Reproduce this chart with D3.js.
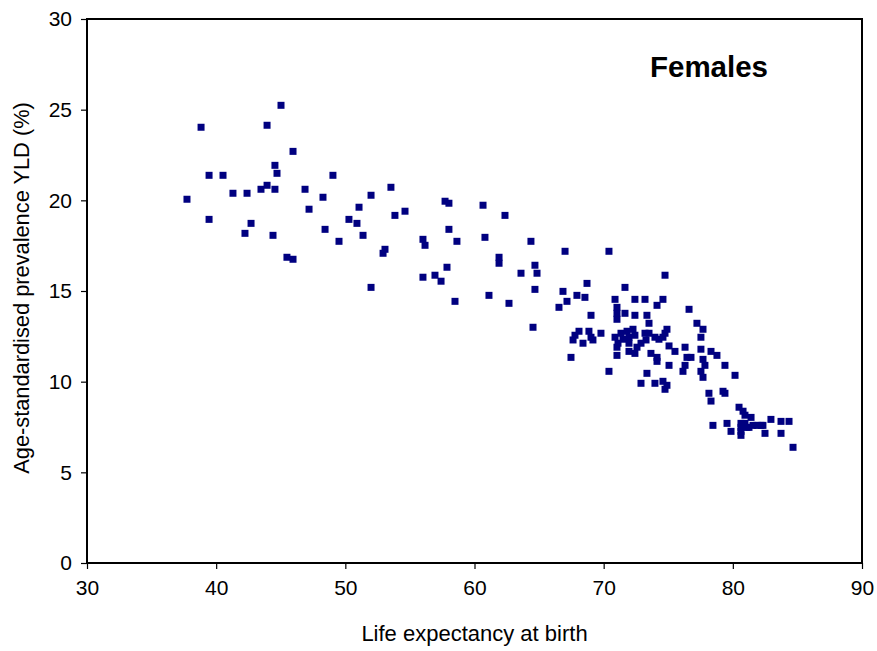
<!DOCTYPE html>
<html>
<head>
<meta charset="utf-8">
<script src="https://cdn.jsdelivr.net/npm/d3@7"></script>
<style>
  html, body { margin: 0; padding: 0; background: #fff; }
  svg { display: block; }
  .axis text { font-family: Arial, "Liberation Sans", sans-serif; font-size: 21px; fill: #000; }
  .axis line { stroke: #000; stroke-width: 1.2px; }
  .axis path { display: none; }
</style>
</head>
<body>
<script>
// Life expectancy at birth (years), one entry per country
const lifeExpectancy = [
  37.74, 38.83, 39.45, 39.45, 40.53, 41.30, 42.23, 42.39, 42.70, 43.47,
  43.94, 43.94, 44.40, 44.55, 44.55, 44.71, 45.02, 45.48, 45.95, 45.95,
  46.88, 47.19, 48.27, 48.43, 49.04, 49.51, 50.28, 50.90, 51.06, 51.37,
  51.99, 51.99, 52.92, 53.07, 53.53, 53.84, 54.62, 56.01, 56.01, 56.17,
  56.94, 57.41, 57.72, 57.87, 58.02, 58.02, 58.49, 58.64, 60.66, 60.81,
  61.12, 61.90, 61.90, 62.36, 62.67, 63.60, 64.37, 64.53, 64.68, 64.68,
  64.84, 66.54, 66.85, 67.01, 67.16, 67.93, 68.55, 68.71, 69.02, 70.41,
  71.65, 67.47, 68.09, 67.78, 67.63, 68.40, 68.86, 69.02, 69.79, 69.17,
  70.41, 70.88, 71.03, 71.03, 71.03, 71.65, 72.42, 72.42, 70.88, 71.34,
  71.81, 72.27, 72.42, 71.96, 71.50, 71.11, 71.03, 71.03, 71.96, 71.96,
  72.42, 72.58, 73.20, 73.35, 73.51, 73.20, 73.51, 73.97, 74.28, 72.89,
  73.28, 73.66, 74.13, 74.13, 74.59, 74.13, 74.75, 74.90, 74.75, 74.59,
  75.06, 75.52, 76.30, 76.45, 76.76, 75.06, 76.30, 76.14, 73.35, 72.89,
  73.97, 74.59, 74.90, 74.75, 76.61, 77.22, 77.69, 77.53, 77.53, 78.31,
  78.77, 77.69, 77.84, 77.53, 77.69, 79.39, 80.17, 78.15, 78.31, 79.24,
  79.39, 80.48, 80.79, 80.94, 81.41, 82.95, 83.73, 84.35, 78.46, 79.55,
  79.86, 80.63, 80.63, 80.63, 80.63, 80.94, 81.10, 81.25, 81.56, 81.87,
  82.18, 82.33, 82.49, 83.73, 84.66
];

// Age-standardised prevalence YLD (%), same order as lifeExpectancy
const prevalenceYLD = [
  20.06, 24.03, 21.38, 18.95, 21.38, 20.39, 18.18, 20.39, 18.73, 20.61,
  24.14, 20.83, 18.07, 21.93, 20.61, 21.49, 25.24, 16.86, 22.70, 16.75,
  20.61, 19.51, 20.17, 18.40, 21.38, 17.74, 18.95, 18.73, 19.62, 18.07,
  20.28, 15.20, 17.08, 17.30, 20.72, 19.17, 19.40, 17.85, 15.76, 17.52,
  15.87, 15.54, 19.95, 16.31, 19.84, 18.40, 14.43, 17.74, 19.73, 17.96,
  14.76, 16.86, 16.53, 19.17, 14.32, 15.98, 17.74, 13.00, 16.42, 15.09,
  15.98, 14.10, 14.98, 17.19, 14.43, 14.76, 14.65, 15.42, 13.66, 17.19,
  15.20, 11.34, 12.78, 12.56, 12.30, 12.12, 12.78, 12.45, 12.67, 12.30,
  10.57, 14.54, 14.10, 13.77, 13.44, 13.77, 14.54, 13.66, 12.45, 12.67,
  12.78, 12.89, 12.56, 12.45, 12.34, 12.12, 11.90, 11.45, 12.12, 11.67,
  11.56, 11.90, 14.54, 13.66, 13.22, 12.67, 12.67, 12.45, 12.34, 12.12,
  12.30, 11.56, 11.34, 11.12, 14.54, 14.21, 15.87, 12.89, 12.67, 12.45,
  11.97, 11.67, 11.90, 11.34, 11.34, 10.90, 10.90, 10.57, 10.46, 9.91,
  9.91, 10.02, 9.80, 9.58, 13.99, 13.22, 12.89, 12.45, 11.79, 11.67,
  11.45, 11.23, 10.90, 10.57, 10.24, 10.90, 10.35, 9.36, 8.93, 9.47,
  9.36, 8.59, 8.37, 8.15, 8.03, 7.92, 7.81, 7.81, 7.59, 7.70,
  7.26, 7.70, 7.48, 7.26, 7.04, 7.70, 7.48, 7.48, 7.59, 7.59,
  7.59, 7.59, 7.15, 7.15, 6.38
];

const xTicks = [30, 40, 50, 60, 70, 80, 90];
const yTicks = [0, 5, 10, 15, 20, 25, 30];

const width = 877, height = 651;
const plot = { left: 87, top: 19, right: 862, bottom: 563 };
const font = "Arial, 'Liberation Sans', sans-serif";

const svg = d3.select("body").append("svg")
  .attr("width", width).attr("height", height);

const x = d3.scaleLinear().domain([30, 90]).range([plot.left, plot.right]);
const y = d3.scaleLinear().domain([0, 30]).range([plot.bottom, plot.top]);

// Axes with outward ticks
svg.append("g").attr("class", "axis")
  .attr("transform", `translate(0,${plot.bottom})`)
  .call(d3.axisBottom(x).tickValues(xTicks).tickSize(6).tickSizeOuter(0).tickPadding(11));

svg.append("g").attr("class", "axis")
  .attr("transform", `translate(${plot.left},0)`)
  .call(d3.axisLeft(y).tickValues(yTicks).tickSize(6).tickSizeOuter(0).tickPadding(9));

// Plot frame
svg.append("rect")
  .attr("x", plot.left).attr("y", plot.top)
  .attr("width", plot.right - plot.left).attr("height", plot.bottom - plot.top)
  .attr("fill", "none").attr("stroke", "#000").attr("stroke-width", 2);

// Data points: small navy squares
const pts = lifeExpectancy.map((v, i) => [v, prevalenceYLD[i]]);
svg.append("g").selectAll("path")
  .data(pts).enter().append("path")
  .attr("transform", d => `translate(${x(d[0])},${y(d[1])})`)
  .attr("d", d3.symbol().type(d3.symbolSquare).size(49))
  .attr("fill", "#000080");

// Titles
svg.append("text")
  .attr("x", (plot.left + plot.right) / 2 + 0).attr("y", 641)
  .attr("text-anchor", "middle")
  .style("font-family", font).style("font-size", "22px")
  .text("Life expectancy at birth");

svg.append("text")
  .attr("transform", `translate(29,288) rotate(-90)`)
  .attr("text-anchor", "middle")
  .style("font-family", font).style("font-size", "21.8px")
  .text("Age-standardised prevalence YLD (%)");

svg.append("text")
  .attr("x", 709).attr("y", 77)
  .attr("text-anchor", "middle")
  .style("font-family", font).style("font-size", "29.5px")
  .style("font-weight", "bold")
  .text("Females");
</script>
</body>
</html>
